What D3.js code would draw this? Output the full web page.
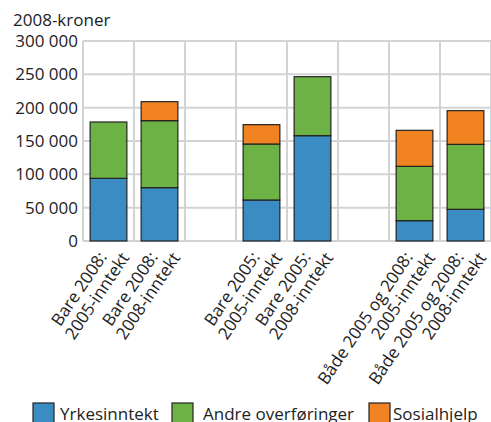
<!DOCTYPE html>
<html>
<head>
<meta charset="utf-8">
<script src="https://cdn.jsdelivr.net/npm/d3@7"></script>
<style>
  body { margin: 0; background: #fff; }
  text { font-family: "Open Sans", sans-serif; fill: #222; }
</style>
</head>
<body>
<div id="chart"></div>
<script>
var categories = ["b08_05", "b08_08", "gap1", "b05_05", "b05_08", "gap2", "bb_05", "bb_08"];
var labelLine1 = ["Bare 2008:", "Bare 2008:", "", "Bare 2005:", "Bare 2005:", "", "Både 2005 og 2008:", "Både 2005 og 2008:"];
var labelLine2 = ["2005-inntekt", "2008-inntekt", "", "2005-inntekt", "2008-inntekt", "", "2005-inntekt", "2008-inntekt"];
var seriesNames = ["Yrkesinntekt", "Andre overføringer", "Sosialhjelp"];
var yrkesinntekt = [94000, 80000, 0, 61500, 158000, 0, 30500, 47500];
var andreOverforinger = [84500, 100500, 0, 84000, 88500, 0, 81500, 97500];
var sosialhjelp = [0, 28500, 0, 29000, 0, 0, 54000, 50500];
var yTicks = [0, 50000, 100000, 150000, 200000, 250000, 300000];
var colors = ["#3a8cc3", "#6cb245", "#f28322"];

var w = 491, h = 422;
var mLeft = 83, mRight = 491, mTop = 41, mBottom = 241;

var rows = categories.map(function (c, i) {
    return { cat: c, Yrkesinntekt: yrkesinntekt[i], "Andre overføringer": andreOverforinger[i], Sosialhjelp: sosialhjelp[i] };
});
var stacked = d3.stack().keys(seriesNames)(rows);

var x = d3.scaleBand().domain(categories).range([mLeft, mRight]).paddingInner(0).paddingOuter(0);
var y = d3.scaleLinear().domain([0, 300000]).range([mBottom, mTop]);
var barW = x.bandwidth() * 0.72;

var svg = d3.select("#chart").append("svg").attr("width", w).attr("height", h);

// grid
svg.selectAll("line.hgrid").data(yTicks).enter().append("line")
    .attr("x1", mLeft).attr("x2", mRight)
    .attr("y1", function (d) { return y(d); }).attr("y2", function (d) { return y(d); })
    .attr("stroke", "#d3d3d3").attr("stroke-width", 2);
var vlines = categories.map(function (c) { return x(c); }).concat([mRight]);
svg.selectAll("line.vgrid").data(vlines).enter().append("line")
    .attr("x1", function (d) { return d; }).attr("x2", function (d) { return d; })
    .attr("y1", mTop).attr("y2", mBottom)
    .attr("stroke", "#d3d3d3").attr("stroke-width", 2);

// y labels
svg.selectAll("text.ytick").data(yTicks).enter().append("text")
    .attr("x", mLeft - 5).attr("y", function (d) { return y(d) + 6; })
    .attr("text-anchor", "end").attr("font-size", 17)
    .text(function (d) { return d3.format(",")(d).replace(/,/g, " "); });

svg.append("text").attr("x", 13).attr("y", 26).attr("font-size", 17).text("2008-kroner");

// bars
svg.selectAll("g.layer").data(stacked).enter().append("g")
    .attr("fill", function (d, i) { return colors[i]; })
    .selectAll("rect").data(function (d) { return d.filter(function (s) { return s[1] - s[0] > 0; }); })
    .enter().append("rect")
    .attr("x", function (d) { return x(d.data.cat) + (x.bandwidth() - barW) / 2; })
    .attr("width", barW)
    .attr("y", function (d) { return y(d[1]); })
    .attr("height", function (d) { return y(d[0]) - y(d[1]); })
    .attr("stroke", "#222").attr("stroke-width", 1.2);

// x labels
categories.forEach(function (c, i) {
    if (!labelLine1[i]) return;
    var cx = x(c) + x.bandwidth() / 2;
    var t = svg.append("text")
        .attr("transform", "translate(" + (cx - 1) + "," + 257 + ") rotate(-56)")
        .attr("text-anchor", "end").attr("font-size", 17);
    t.append("tspan").attr("x", 0).attr("dy", 0).text(labelLine1[i]);
    t.append("tspan").attr("x", 12).attr("dy", 19).text(labelLine2[i]);
});

// legend
var legX = [33, 172, 369];
var legTextX = [60, 203, 393];
seriesNames.forEach(function (s, i) {
    svg.append("rect").attr("x", legX[i]).attr("y", 403).attr("width", 21).attr("height", 21)
        .attr("fill", colors[i]).attr("stroke", "#222").attr("stroke-width", 1.2);
    svg.append("text").attr("x", legTextX[i]).attr("y", 420).attr("font-size", 17).text(s);
});
</script>
</body>
</html>
